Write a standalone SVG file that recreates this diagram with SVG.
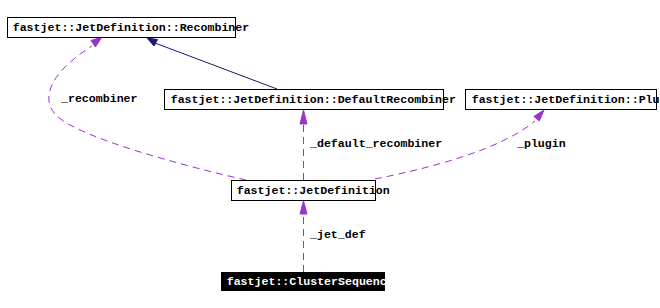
<svg xmlns="http://www.w3.org/2000/svg" width="660" height="308" viewBox="0 0 660 308">
<style>
text{font-family:"Liberation Mono","DejaVu Sans Mono",monospace;font-size:11.6px;font-weight:bold;fill:#000}
.box{fill:#fff;stroke:#000;stroke-width:1}
.dash{fill:none;stroke:#9a32cd;stroke-width:1;stroke-dasharray:7,5}
.solid{fill:none;stroke:#191970;stroke-width:1}
.ahp{fill:#9a32cd;stroke:#9a32cd}
.ahn{fill:#191970;stroke:#191970}
</style>
<rect width="660" height="308" fill="#fff"/>
<g id="connectors">
<path class="solid" d="M277,89 L155,43"/>
<polygon class="ahn" points="147,38 157.5,39.5 154,46"/>
<path class="dash" d="M246,180 C180,165 90,140 62,120 C38,104 46,75 92,46"/>
<polygon class="ahp" points="102,37 91,40.5 95.4,46.9"/>
<path class="dash" d="M375,179 C430,168 500,150 535,121"/>
<polygon class="ahp" points="544,110 533.9,116.5 539.3,120.9"/>
<path class="dash" d="M303.5,180 L303.5,124"/>
<polygon class="ahp" points="303.5,110 300,124 307,124"/>
<path class="dash" d="M303.5,272 L303.5,214"/>
<polygon class="ahp" points="303.5,201 300,214 307,214"/>
<text x="61" y="102">_recombiner</text>
<text x="310" y="147">_default_recombiner</text>
<text x="517" y="147">_plugin</text>
<text x="310" y="238">_jet_def</text>
</g>
<g id="recombiner">
<rect class="box" x="7.5" y="17.5" width="228" height="20"/>
<text x="12.7" y="31">fastjet::JetDefinition::Recombiner</text>
</g>
<g id="defaultrecombiner">
<rect class="box" x="164.5" y="89.5" width="279" height="20"/>
<text x="170.7" y="103">fastjet::JetDefinition::DefaultRecombiner</text>
</g>
<g id="plugin">
<rect class="box" x="465.5" y="89.5" width="191" height="20"/>
<text x="471.7" y="103">fastjet::JetDefinition::Plugin</text>
</g>
<g id="jetdefinition">
<rect class="box" x="231.5" y="180.5" width="144" height="20"/>
<text x="236.7" y="194">fastjet::JetDefinition</text>
</g>
<g id="clustersequence">
<rect x="221" y="272" width="164" height="19" fill="#000"/>
<svg x="221" y="272" width="164" height="19" overflow="hidden">
<text x="5.7" y="12.5" style="fill:#fff">fastjet::ClusterSequence</text>
</svg>
</g>
</svg>
